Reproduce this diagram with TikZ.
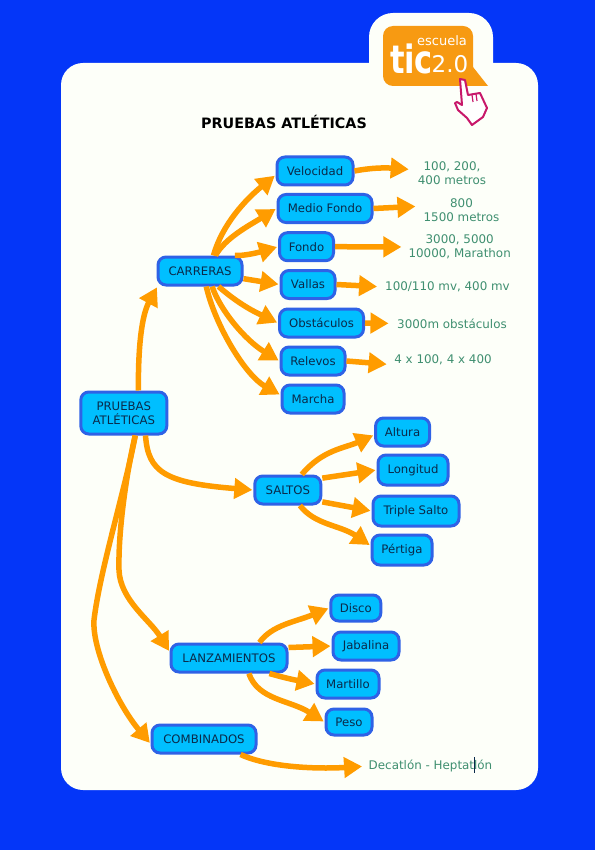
\documentclass[tikz,border=0pt]{standalone}
\usepackage{fontspec}
\setmainfont{DejaVu Sans}
\usepackage{tikz}
\usetikzlibrary{arrows.meta, calc}
\definecolor{fondoblue}{HTML}{0436F8}
\definecolor{panelwhite}{HTML}{FDFFF9}
\definecolor{boxfill}{HTML}{00BFFF}
\definecolor{boxline}{HTML}{2F62E6}
\definecolor{linkorange}{HTML}{FF9C00}
\definecolor{notegreen}{HTML}{3F8F70}
\definecolor{boxtext}{HTML}{0A2A4A}
\definecolor{handpink}{HTML}{C8186A}
\definecolor{logoorange}{HTML}{F79A12}
\tikzset{
    box/.style={draw=boxline, line width=3pt, fill=boxfill, rounded corners=8pt, text=boxtext,
        font=\fontsize{11.7}{14.5}\selectfont, align=center, inner sep=0pt, minimum height=28},
    note/.style={text=notegreen, font=\fontsize{11.9}{14.3}\selectfont, align=center, inner sep=0pt},
    link/.style={draw=linkorange, line width=5.5pt, -{Triangle[length=18,width=20]}, shorten >=1}
}

\begin{document}
\begin{tikzpicture}[x=1pt, y=-1pt]
    \useasboundingbox (0,0) rectangle (595,850);
    % Background and panel
    \fill[fondoblue] (0,0) rectangle (595,850);
    \fill[panelwhite, rounded corners=22] (61,63) rectangle (538,790);
    \fill[panelwhite, rounded corners=24] (369,13) rectangle (493,100);

    % Logo
    \fill[logoorange, rounded corners=10] (383,26) rectangle (473,86);
    \fill[logoorange] (473,67) -- (488,86) -- (465,86) -- (465,67) -- cycle;
    \node[white, font=\fontsize{13}{13}\selectfont, inner sep=0pt] (escuela) at (442,41) {escuela};
    \node[white, font=\bfseries\fontsize{39}{39}\selectfont, inner sep=0pt] (tic) at (411.5,59) {\scalebox{.78}[1]{tic}};
    \node[white, font=\fontsize{23}{23}\selectfont, inner sep=0pt] (version) at (450,64) {2.0};
    \filldraw[fill=white, draw=handpink, line width=2pt, line join=round]
        (460,79) -- (465,80) -- (468,95) -- (480,93) -- (487,108) -- (483,117) -- (472,125)
        -- (467,118) -- (458,110) -- (455,103) -- (457,102) -- (462,105) -- cycle;
    \draw[handpink, line width=1.2pt] (472,95) -- (473,102) (476,94) -- (477,101);

    % Title
    \node[font=\bfseries\fontsize{14.3}{16}\selectfont, inner sep=0pt] (titulo) at (284,122) {PRUEBAS ATLÉTICAS};

    % Root
    \node[box, minimum width=86, minimum height=42] (pru) at (123.8,413) {PRUEBAS\\ATLÉTICAS};

    % Carreras
    \node[box, minimum width=84] (car) at (200,271) {CARRERAS};
    \node[box, minimum width=76] (vel) at (315,171) {Velocidad};
    \node[box, minimum width=94] (med) at (325,208.5) {Medio Fondo};
    \node[box, minimum width=54] (fon) at (306.5,246.7) {Fondo};
    \node[box, minimum width=54] (val) at (308,284.5) {Vallas};
    \node[box, minimum width=84] (obs) at (321.5,323) {Obstáculos};
    \node[box, minimum width=64] (rel) at (313,361) {Relevos};
    \node[box, minimum width=62] (mar) at (313,399) {Marcha};

    \node[note] (tvel) at (452,173) {100, 200,\\400 metros};
    \node[note] (tmed) at (461.5,210) {800\\1500 metros};
    \node[note] (tfon) at (459.7,247) {3000, 5000\\10000, Marathon};
    \node[note] (tval) at (447.5,287) {100/110 mv, 400 mv};
    \node[note] (tobs) at (452,323.5) {3000m obstáculos};
    \node[note] (trel) at (443,359.5) {4 x 100, 4 x 400};

    % Saltos
    \node[box, minimum width=66] (sal) at (287.8,490) {SALTOS};
    \node[box, minimum width=54] (alt) at (402.6,432) {Altura};
    \node[box, minimum width=70, minimum height=30] (lon) at (413,470) {Longitud};
    \node[box, minimum width=86, minimum height=30] (tri) at (416,511) {Triple Salto};
    \node[box, minimum width=60, minimum height=30] (per) at (402,550) {Pértiga};

    % Lanzamientos
    \node[box, minimum width=116] (lan) at (229,658) {LANZAMIENTOS};
    \node[box, minimum width=50, minimum height=26] (dis) at (355.8,608) {Disco};
    \node[box, minimum width=66] (jab) at (366,646) {Jabalina};
    \node[box, minimum width=62] (mrt) at (348,684) {Martillo};
    \node[box, minimum width=46, minimum height=26] (pes) at (349,722) {Peso};

    % Combinados
    \node[box, minimum width=104] (com) at (204,739) {COMBINADOS};
    \node[note] (tcom) at (430.5,766) {Decatlón - Heptatlón};
    \draw[boxtext, line width=0.8pt] (474.3,757) -- (474.3,773);

    % Links from the root
    \draw[link] (pru.57) .. controls (138,345) and (142,315) .. (car.200);
    \draw[link] (pru.-46) .. controls (148,472) and (165,483) .. (sal.west);
    \draw[link] (pru.-63) .. controls (127,470) and (118,530) .. (119,570) .. controls (120,600) and (150,620) .. (lan.174);
    \draw[link] (pru.-63) .. controls (125,490) and (100,570) .. (94,620) .. controls (92,650) and (118,705) .. (com.185);

    % Links from Carreras
    \draw[link] (car.49) .. controls (222,225) and (245,200) .. (vel.186);
    \draw[link] (car.45) .. controls (225,238) and (250,225) .. (med.west);
    \draw[link] (car.24) .. controls (245,256) and (260,252) .. (fon.west);
    \draw[link] (car.-10) -- (val.west);
    \draw[link] (car.-40) .. controls (240,305) and (255,312) .. (obs.west);
    \draw[link] (car.-52) .. controls (220,310) and (245,340) .. (rel.west);
    \draw[link] (car.-68) .. controls (215,325) and (245,375) .. (mar.173);

    % Links to the notes
    \draw[link, shorten >=9] (vel.east) .. controls (375,167) and (390,168) .. (tvel.175);
    \draw[link, shorten >=8] (med.east) -- (tmed.174);
    \draw[link, shorten >=7] (fon.east) -- (tfon.west);
    \draw[link, shorten >=8] (val.east) -- (tval.west);
    \draw[link, shorten >=8.5] (obs.east) -- (tobs.west);
    \draw[link, shorten >=7.5] (rel.east) -- (trel.south west);
    \draw[link, shorten >=6.5] (com.-23) .. controls (270,768) and (320,769) .. (tcom.west);

    % Links from Saltos
    \draw[link] (sal.48) .. controls (322,450) and (345,448) .. (alt.186);
    \draw[link] (sal.19) -- (lon.west);
    \draw[link] (sal.-19) -- (tri.west);
    \draw[link] (sal.-52) .. controls (315,525) and (340,525) .. (per.172);

    % Links from Lanzamientos
    \draw[link] (lan.27) .. controls (272,625) and (295,622) .. (dis.west);
    \draw[link] (lan.10) -- (jab.west);
    \draw[link] (lan.-21) .. controls (285,678) and (295,680) .. (mrt.west);
    \draw[link] (lan.-38) .. controls (258,700) and (290,700) .. (pes.west);
\end{tikzpicture}
\end{document}
